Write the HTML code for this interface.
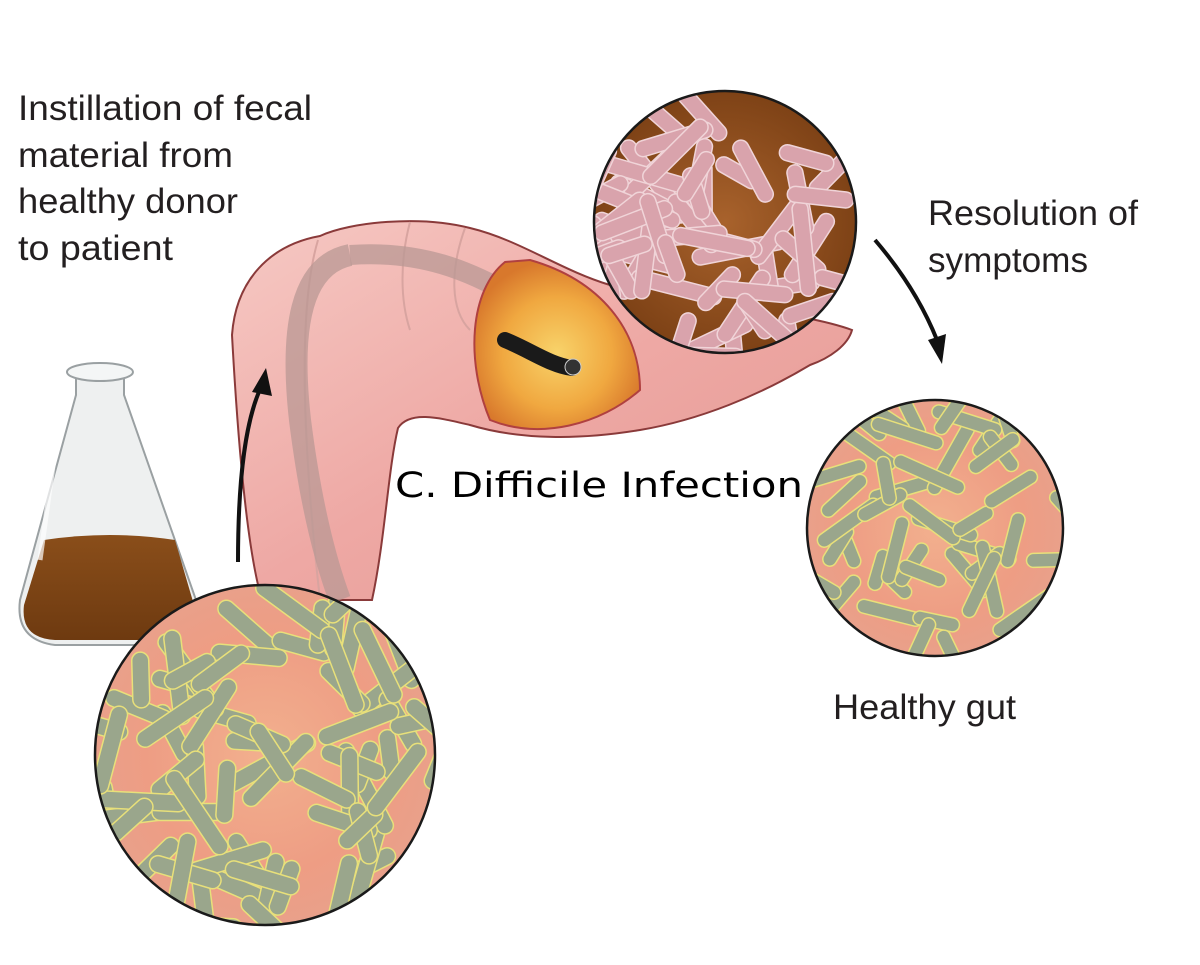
<!DOCTYPE html>
<html><head><meta charset="utf-8">
<style>
html,body{margin:0;padding:0;background:#fff;}
svg{display:block;}
.lbl{font-family:"Liberation Sans Narrow","Liberation Sans",sans-serif;fill:#231f20;font-size:35px;}
</style></head>
<body>
<svg id="s" width="1200" height="965" viewBox="0 0 1200 965" xmlns="http://www.w3.org/2000/svg">
<defs>
<radialGradient id="pinkbg" cx="50%" cy="50%" r="50%">
<stop offset="0" stop-color="#f2b08e"/><stop offset="0.7" stop-color="#ee9d84"/><stop offset="1" stop-color="#e9a08a"/>
</radialGradient>
<radialGradient id="brownbg" cx="50%" cy="50%" r="50%">
<stop offset="0" stop-color="#a8622c"/><stop offset="1" stop-color="#7e4216"/>
</radialGradient>
<linearGradient id="colon" x1="0" y1="0" x2="1" y2="1">
<stop offset="0" stop-color="#f6c9c4"/><stop offset="0.5" stop-color="#eea8a4"/><stop offset="1" stop-color="#e39892"/>
</linearGradient>
<radialGradient id="inside" cx="50%" cy="55%" r="55%">
<stop offset="0" stop-color="#f8d36a"/><stop offset="0.6" stop-color="#f0a840"/><stop offset="1" stop-color="#d8782c"/>
</radialGradient>
<linearGradient id="liq" x1="0" y1="0" x2="0" y2="1">
<stop offset="0" stop-color="#8a4e1a"/><stop offset="1" stop-color="#6e3a10"/>
</linearGradient>
<clipPath id="c1"><circle cx="725" cy="222" r="131"/></clipPath>
<clipPath id="c2"><circle cx="265" cy="755" r="170"/></clipPath>
<clipPath id="c3"><circle cx="935" cy="528" r="128"/></clipPath>
</defs>

<!-- flask -->
<g>
<path d="M76,372 L76,395 L20,600 Q15,640 55,645 L170,645 Q205,640 196,600 L124,395 L124,372 Z" fill="#eef0f0" stroke="#9aa0a2" stroke-width="2"/>
<ellipse cx="100" cy="372" rx="33" ry="9" fill="#f4f6f6" stroke="#9aa0a2" stroke-width="2"/>
<path d="M44,540 Q110,530 175,540 L194,605 Q200,638 170,640 L55,640 Q20,638 24,605 Z" fill="url(#liq)"/>
<path d="M62,400 L40,560" stroke="#fff" stroke-width="5" opacity="0.7"/>
</g>

<!-- colon -->
<path d="M232,335 C236,280 270,245 320,236 C350,222 420,215 470,228 C520,240 560,270 610,285 L700,300 C760,310 820,318 852,330 C848,345 830,358 810,365 C760,395 700,420 640,430 C580,440 520,440 470,425 C440,418 410,410 398,428 C388,470 385,540 372,600 L262,600 C250,560 240,480 232,335 Z" fill="url(#colon)" stroke="#8a3a3a" stroke-width="2"/>
<path d="M318,240 C300,300 300,420 320,600" stroke="#d8a4a0" stroke-width="2" fill="none"/>
<path d="M410,222 C400,260 400,300 410,330" stroke="#d8a4a0" stroke-width="2" fill="none"/>
<path d="M465,228 C450,270 450,310 470,330" stroke="#d8a4a0" stroke-width="2" fill="none"/>
<path d="M350,255 C300,265 290,330 300,420 C310,500 325,560 340,600" stroke="#b99894" stroke-width="22" fill="none" opacity="0.75"/>
<path d="M350,255 C420,250 470,270 520,300" stroke="#b99894" stroke-width="20" fill="none" opacity="0.75"/>
<path d="M505,262 C470,290 465,360 490,420 C540,440 600,425 640,390 C640,330 600,280 530,260 Z" fill="url(#inside)" stroke="#b04040" stroke-width="2"/>
<path d="M505,340 C530,350 550,365 572,368" stroke="#1a1a1a" stroke-width="16" fill="none" stroke-linecap="round"/>
<circle cx="573" cy="367" r="8" fill="#333" stroke="#ccc" stroke-width="1"/>

<circle cx="725" cy="222" r="131" fill="url(#brownbg)"/>
<g id="r1" clip-path="url(#c1)"></g>
<circle cx="725" cy="222" r="131" fill="none" stroke="#1a1a1a" stroke-width="2.5"/>

<circle cx="265" cy="755" r="170" fill="url(#pinkbg)"/>
<g id="r2" clip-path="url(#c2)"></g>
<circle cx="265" cy="755" r="170" fill="none" stroke="#1a1a1a" stroke-width="2.5"/>

<circle cx="935" cy="528" r="128" fill="url(#pinkbg)"/>
<g id="r3" clip-path="url(#c3)"></g>
<circle cx="935" cy="528" r="128" fill="none" stroke="#1a1a1a" stroke-width="2.5"/>

<path d="M238,562 C238,480 245,420 262,385" stroke="#111" stroke-width="4" fill="none"/>
<path d="M252,392 L266,368 L272,396 Z" fill="#111"/>
<path d="M875,240 C905,275 925,310 937,340" stroke="#111" stroke-width="4" fill="none"/>
<path d="M928,340 L942,364 L946,334 Z" fill="#111"/>

<text class="lbl" x="18" y="120" textLength="294" lengthAdjust="spacingAndGlyphs">Instillation of fecal</text>
<text class="lbl" x="18" y="167" textLength="215" lengthAdjust="spacingAndGlyphs">material from</text>
<text class="lbl" x="18" y="213" textLength="220" lengthAdjust="spacingAndGlyphs">healthy donor</text>
<text class="lbl" x="18" y="260" textLength="155" lengthAdjust="spacingAndGlyphs">to patient</text>
<text class="lbl" x="928" y="225" textLength="210" lengthAdjust="spacingAndGlyphs">Resolution of</text>
<text class="lbl" x="928" y="272" textLength="160" lengthAdjust="spacingAndGlyphs">symptoms</text>
<text class="lbl" x="833" y="719" textLength="183" lengthAdjust="spacingAndGlyphs">Healthy gut</text>
<text x="395" y="497" font-family="DejaVu Sans, sans-serif" font-size="35" fill="#000" textLength="408" lengthAdjust="spacingAndGlyphs">C. Difficile Infection</text>
</svg>
<script>
(function(){
var NS="http://www.w3.org/2000/svg";
var seed=7;function rnd(){seed=(seed*9301+49297)%233280;return seed/233280;}
function rods(id,cx,cy,r,n,fill,stroke,w,len){
 var g=document.getElementById(id);
 for(var i=0;i<n;i++){
  var a=rnd()*6.283,d=Math.sqrt(rnd())*r*1.05;
  var x=cx+Math.cos(a)*d,y=cy+Math.sin(a)*d;
  var ang=rnd()*180,L=len*(0.6+rnd()*0.6);
  var e=document.createElementNS(NS,"rect");
  e.setAttribute("x",x-L/2);e.setAttribute("y",y-w/2);
  e.setAttribute("width",L);e.setAttribute("height",w);
  e.setAttribute("rx",w/2);e.setAttribute("fill",fill);
  e.setAttribute("stroke",stroke);e.setAttribute("stroke-width","1.5");
  e.setAttribute("transform","rotate("+ang+" "+x+" "+y+")");
  g.appendChild(e);
 }
}
rods("r1",725,222,131,60,"#d9a3ac","#f0d4d8",16,80);
rods("r2",265,755,170,70,"#9aa68c","#e8e07a",17,85);
rods("r3",935,528,128,45,"#9aa68c","#e8e07a",14,70);
})();
</script>
</body></html>
